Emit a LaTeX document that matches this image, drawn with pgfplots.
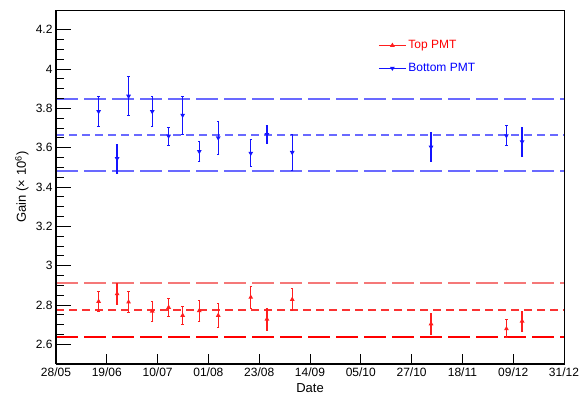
\documentclass[border=0pt]{standalone}
\usepackage{pgfplots}
\pgfplotsset{compat=1.18}
\usepackage{fontspec}
\setmainfont{Liberation Sans}

\definecolor{rootred}{RGB}{255,0,0}
\definecolor{rootblue}{RGB}{0,0,255}
\definecolor{lightred}{RGB}{245,120,120}
\definecolor{midred}{RGB}{250,50,50}
\definecolor{lightblue}{RGB}{105,105,255}
\definecolor{ptred}{RGB}{255,30,30}
\definecolor{ptblue}{RGB}{20,20,255}

% gain per PMT: day since 28/05, gain, error
\pgfplotstableread{
day  g      e
18.2 2.818  0.053
26.1 2.857  0.054
31.0 2.815  0.052
41.1 2.769  0.050
48.1 2.788  0.048
54.1 2.747  0.044
61.2 2.771  0.054
69.3 2.747  0.062
83.2 2.839  0.058
90.1 2.728  0.056
100.9 2.828 0.057
160.2 2.704 0.054
192.4 2.679 0.046
199.1 2.718 0.050
}\toppmt
\pgfplotstableread{
day  g      e
18.2 3.784  0.076
26.1 3.545  0.074
31.0 3.862  0.100
41.1 3.784  0.077
48.1 3.659  0.046
54.1 3.765  0.097
61.2 3.581  0.050
69.3 3.650  0.084
83.2 3.572  0.068
90.1 3.667  0.047
100.9 3.576 0.090
160.2 3.603 0.073
192.4 3.661 0.050
199.1 3.630 0.075
}\bottompmt

% mean gain and the +-5 percent band of each PMT
\pgfplotstableread{
x    tlo    tmid   thi    blo    bmid   bhi
0    2.637  2.774  2.911  3.479  3.662  3.848
217  2.637  2.774  2.911  3.479  3.662  3.848
}\bands

\pgfplotsset{
  rootframe/.style={
    scale only axis, width=508pt, height=354pt,
    xmin=0, xmax=217, ymin=2.5, ymax=4.3,
    at={(0pt,0pt)}, anchor=south west,
    tick align=inside,
    tick style={line width=0.9pt, black},
    /pgf/number format/assume math mode=true,
    ticklabel style={font=\fontsize{12}{14}\selectfont},
  },
  longdash/.style={dash pattern=on 22pt off 6pt},
  shortdash/.style={dash pattern=on 8pt off 5pt},
}

\begin{document}
\begin{tikzpicture}
\useasboundingbox (-56pt,-33pt) rectangle (529pt,364pt);

% band lines, drawn first so the points sit on top
\begin{axis}[rootframe, hide axis]
\addplot[color=lightred, line width=2pt, longdash]
  table[x=x, y=thi] {\bands};
\addplot[color=midred, line width=1.6pt, shortdash]
  table[x=x, y=tmid] {\bands};
\addplot[color=rootred, line width=1.6pt, longdash]
  table[x=x, y=tlo] {\bands};
\addplot[color=lightblue, line width=2pt, longdash]
  table[x=x, y=bhi] {\bands};
\addplot[color=lightblue, line width=2pt, shortdash]
  table[x=x, y=bmid] {\bands};
\addplot[color=lightblue, line width=2pt, longdash]
  table[x=x, y=blo] {\bands};
\end{axis}

% frame, y axis and data
\begin{axis}[
  rootframe,
  axis line style={line width=0.7pt},
  xtick=\empty,
  ytick={2.6,2.8,...,4.21},
  minor y tick num=3,
  ytick pos=left,
  major tick length=15pt,
  minor tick length=8pt,
  ylabel={Gain (× 10\textsuperscript{6})},
  ylabel style={at={(axis description cs:-0.067,0.5)}, anchor=center,
    font=\fontsize{13}{15}\selectfont},
  legend style={draw=none, fill=none, at={(axis description cs:0.634,0.92)},
    anchor=north west, font=\fontsize{12}{14}\selectfont,
    row sep=9pt, inner sep=0pt,
    /tikz/every even column/.append style={column sep=6pt}},
  legend cell align=left,
  legend image code/.code={
    \draw[#1, sharp plot, mark repeat=2, mark phase=2]
      plot coordinates {(0pt,0pt) (13.5pt,0pt) (27pt,0pt)};},
]
\addplot[ptred, only marks, mark=triangle*, mark size=1.6pt, line width=1.2pt,
  error bars/.cd, y dir=both, y explicit,
  error bar style={line width=1.4pt},
  error mark options={rotate=90, mark size=1.2pt, line width=0.8pt}]
  table[x=day, y=g, y error=e] {\toppmt};
\addlegendentry[text=rootred]{Top PMT}

\addplot[ptblue, only marks, mark=triangle*, mark options={rotate=180}, mark size=1.6pt, line width=1.2pt,
  error bars/.cd, y dir=both, y explicit,
  error bar style={line width=1.4pt},
  error mark options={rotate=90, mark size=1.2pt, line width=0.8pt}]
  table[x=day, y=g, y error=e] {\bottompmt};
\addlegendentry[text=rootblue]{Bottom PMT}
\end{axis}

% date axis and the heavy left and bottom lines
\begin{axis}[
  rootframe,
  axis x line*=bottom, axis y line*=left,
  axis line style={line width=2pt, -},
  ytick=\empty,
  xtick={0,21.7,43.4,65.1,86.8,108.5,130.2,151.9,173.6,195.3,217},
  xticklabels={28/05,19/06,10/07,01/08,23/08,14/09,05/10,27/10,18/11,09/12,31/12},
  major tick length=10pt,
  xlabel={Date},
  xlabel style={at={(axis description cs:0.5,-0.068)}, anchor=center,
    font=\fontsize{13}{15}\selectfont},
]
\end{axis}
\end{tikzpicture}
\end{document}
